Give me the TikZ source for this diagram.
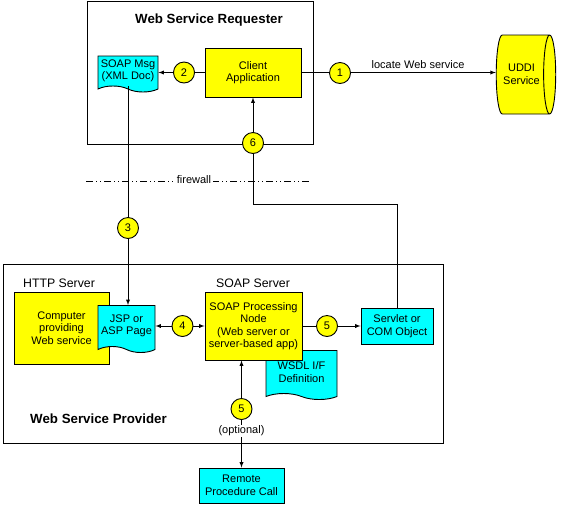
\documentclass[tikz,border=0pt]{standalone}
\usepackage{fontspec}
\setmainfont{Liberation Sans}
\usetikzlibrary{shapes.geometric,shapes.symbols}
\newcommand\txt{\fontsize{11}{12.5}\selectfont}
\definecolor{aqua}{RGB}{0,255,255}
\definecolor{lemon}{RGB}{255,255,0}

\begin{document}
\begin{tikzpicture}[x=1pt, y=-1pt, >=latex, line width=0.9pt,
  ybox/.style={draw, fill=lemon, align=center, inner sep=0pt, font=\txt},
  cbox/.style={draw, fill=aqua, align=center, inner sep=0pt, font=\txt},
  docu/.style={tape, tape bend top=none, tape bend bottom=out and in, tape bend height=6pt,
    draw, fill=aqua, align=center, inner sep=0pt, font=\txt},
  num/.style={circle, draw, fill=lemon, minimum size=21pt, inner sep=0pt, font=\txt},
  ttl/.style={font=\bfseries\fontsize{13.3}{15}\selectfont},
  sub/.style={font=\fontsize{12.3}{14}\selectfont}]

  \useasboundingbox (0,0) rectangle (561,504);

  %% requester side
  \draw (87,1) rectangle (313,144);
  \node[ttl] (req) at (209,20) {Web Service Requester};
  \node[docu, minimum width=60pt, minimum height=36pt] (msg) at (128,71) {SOAP Msg\\(XML Doc)};
  \node[ybox, minimum width=96pt, minimum height=49pt] (client) at (253,72.5) {Client\\Application};
  \node[cylinder, draw, fill=lemon, align=center, font=\txt, aspect=0.45,
    minimum width=79pt, minimum height=55pt] (uddi) at (521.5,74.5) {UDDI\\Service};

  %% provider side
  \draw (3,264) rectangle (443,443);
  \node[sub] (http) at (59,283) {HTTP Server};
  \node[sub] (soapsrv) at (253,283) {SOAP Server};
  \node[ttl] (prov) at (98.5,419) {Web Service Provider};
  \node[ybox, minimum width=95pt, minimum height=72pt] (comp) at (61.5,328) {Computer\\providing\\Web service};
  \node[docu, minimum width=57pt, minimum height=47pt] (jsp) at (126.5,326) {JSP or\\ASP Page};
  \node[docu, minimum width=71pt, minimum height=49pt] (wsdl) at (301.5,372) {WSDL I/F\\Definition};
  \node[ybox, minimum width=97pt, minimum height=68pt] (proc) at (253.5,326)
    {SOAP Processing\\Node\\(Web server or\\server-based app)};
  \node[cbox, minimum width=72pt, minimum height=36pt] (servlet) at (397,326) {Servlet or\\COM Object};
  \node[cbox, minimum width=85pt, minimum height=35pt] (rpc) at (241.5,485.5) {Remote\\Procedure Call};

  %% firewall
  \coordinate (fwl) at (86,181);
  \coordinate (fwr) at (309,181);
  \draw[dash pattern=on 7pt off 3pt on 1pt off 3pt on 1pt off 3pt] (fwl) -- (fwr);
  \node[fill=white, font=\txt, inner sep=2pt] (fw) at (194,180) {firewall};

  %% connectors
  \coordinate (bend6) at (253,204);
  \draw[->] (client.west) -- (msg.east |- client.west); % client->msg
  \draw[->] (client.east) -- node[above, font=\txt, pos=0.6]{locate Web service} (client.east -| uddi.west); % client->uddi
  \draw[->] (msg.south) -- (msg.south |- jsp.north); % msg->jsp
  \draw[<->] (jsp.east) -- (proc.west); % jsp<->proc
  \draw[->] (proc.east) -- (servlet.west); % proc->servlet
  \draw[->] (servlet.north) |- (bend6) -- (client.south); % servlet->client
  \draw[<->] (rpc.north |- proc.south) -- (rpc.north); % proc<->rpc
  \node[fill=white, font=\txt, inner sep=1pt] (opt) at (241.5,431) {(optional)};

  %% step numbers
  \node[num] (n1) at (340,73) {1};
  \node[num] (n2) at (184,72.5) {2};
  \node[num] (n3) at (128,228) {3};
  \node[num] (n4) at (182.5,326) {4};
  \node[num] (n5) at (327,326) {5};
  \node[num] (n5b) at (241.5,409) {5};
  \node[num] (n6) at (253,143) {6};

\end{tikzpicture}
\end{document}
